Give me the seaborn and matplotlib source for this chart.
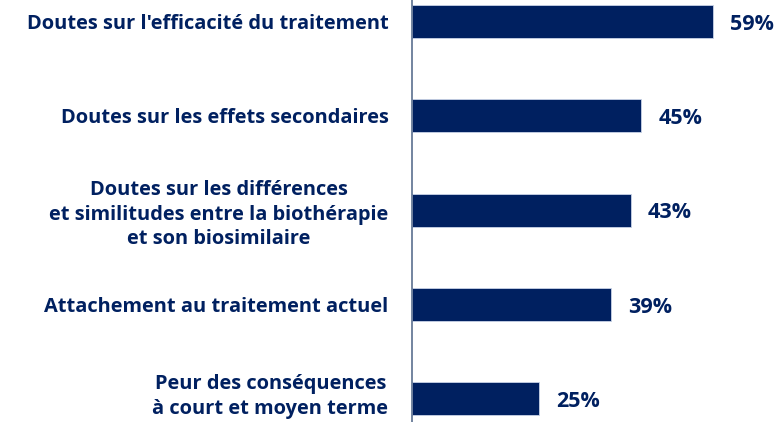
import matplotlib
matplotlib.use("Agg")
import matplotlib.pyplot as plt
import matplotlib.transforms as mtransforms
import seaborn as sns
import pandas as pd

categories = [
    "Doutes sur l'efficacité du traitement",
    "Doutes sur les effets secondaires",
    "Doutes sur les différences\net similitudes entre la biothérapie\net son biosimilaire",
    "Attachement au traitement actuel",
    "Peur des conséquences\nà court et moyen terme",
]
values = [59, 45, 43, 39, 25]
value_labels = ["59%", "45%", "43%", "39%", "25%"]

navy = "#002060"

sns.set_style("white")
plt.rcParams['font.family'] = ['Open Sans', 'DejaVu Sans']

df = pd.DataFrame({"cat": categories, "val": values})

fig = plt.figure(figsize=(7.77, 4.22), dpi=100)
ax = fig.add_axes([412 / 777, 0, 365 / 777, 1])

sns.barplot(data=df, x="val", y="cat", orient="h", color=navy, width=0.35,
            edgecolor="#c9d3e6", linewidth=0.6, saturation=1, ax=ax)

# value labels to the right of each bar
for i, (v, lab) in enumerate(zip(values, value_labels)):
    ax.text(v + 3.3, i + 0.03, lab, va="center", ha="left", fontsize=15.5,
            fontweight="bold", color=navy)

ax.set_xlim(0, 71.6)
ax.set_ylim(4.25, -0.23)
ax.set_xlabel("")
ax.set_ylabel("")
ax.set_xticks([])
ax.tick_params(axis="y", length=0, pad=17)
ax.set_yticks(range(len(categories)))
ax.set_yticklabels(categories, fontsize=14.4, fontweight="bold", color=navy,
                   multialignment="center", linespacing=1.3)

# nudge the bottom label up a bit so it stays inside the figure
last = ax.get_yticklabels()[-1]
last.set_transform(last.get_transform() +
                   mtransforms.ScaledTranslation(0, 5 / 72, fig.dpi_scale_trans))

for s in ["top", "right", "bottom"]:
    ax.spines[s].set_visible(False)
ax.spines["left"].set_color("#5b6f8f")
ax.spines["left"].set_linewidth(1.2)

fig.savefig("out.png", dpi=100)
